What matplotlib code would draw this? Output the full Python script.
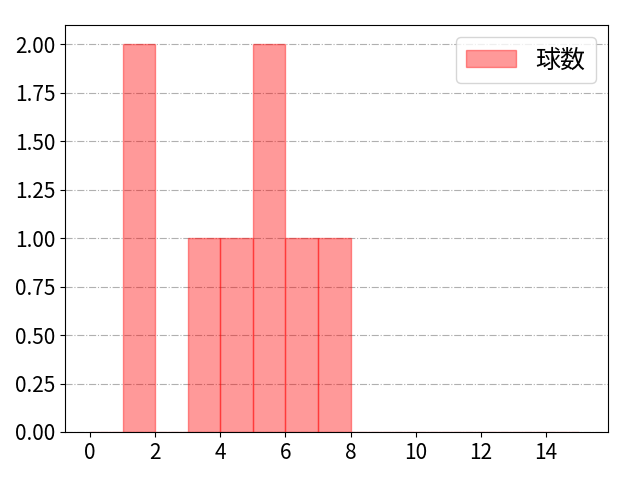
import matplotlib
matplotlib.use("Agg")
import matplotlib.pyplot as plt

plt.rcParams['font.family'] = ['Noto Sans CJK JP', 'DejaVu Sans']
plt.rcParams['font.size'] = 15

# pitch counts per appearance
pitches = [1, 1, 3, 4, 5, 5, 6, 7]
bins = list(range(0, 16))
label = '球数'

fig, ax = plt.subplots(figsize=(6.4, 4.8), dpi=100)
ax.hist(pitches, bins=bins, color='red', edgecolor='red', alpha=0.4, label=label)
ax.grid(axis='y', linestyle='-.', color='#b0b0b0')
ax.set_axisbelow(True)
ax.set_xlim(-0.76, 15.9)
ax.set_xticks(range(0, 16, 2))
ax.yaxis.set_major_formatter(matplotlib.ticker.FormatStrFormatter('%.2f'))
ax.set_yticks([0, 0.25, 0.5, 0.75, 1.0, 1.25, 1.5, 1.75, 2.0])
ax.legend(loc='upper right', fontsize=18)
fig.subplots_adjust(left=0.102, right=0.95, top=0.948, bottom=0.1)
fig.savefig('out.png')
